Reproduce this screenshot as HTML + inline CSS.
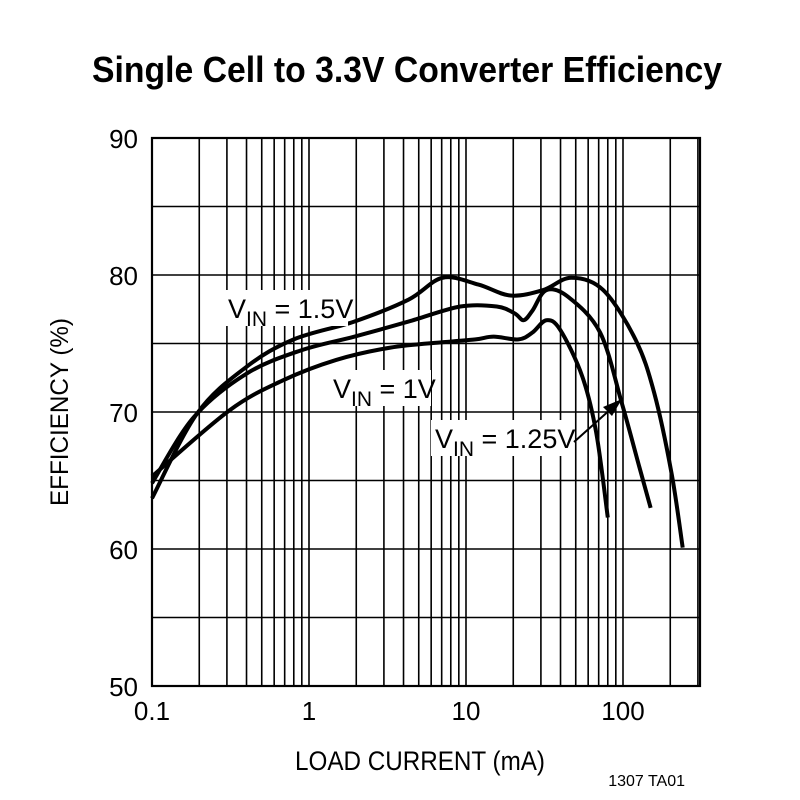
<!DOCTYPE html>
<html><head><meta charset="utf-8"><style>
body{margin:0;background:#fff}
svg{display:block;font-family:"Liberation Sans",sans-serif}
</style></head><body>
<svg id="chart" width="800" height="800" viewBox="0 0 800 800">
<text x="407" y="82" text-anchor="middle" font-size="36" font-weight="bold" textLength="630" lengthAdjust="spacingAndGlyphs">Single Cell to 3.3V Converter Efficiency</text>
<g id="grid"></g>
<g id="ticks"></g>
<g id="series"></g>
<g id="labels"></g>
<text x="420" y="770" text-anchor="middle" font-size="27" textLength="250" lengthAdjust="spacingAndGlyphs">LOAD CURRENT (mA)</text>
<text transform="translate(68,412) rotate(-90)" text-anchor="middle" font-size="25" textLength="188" lengthAdjust="spacingAndGlyphs">EFFICIENCY (%)</text>
<text x="685" y="786" text-anchor="end" font-size="16">1307 TA01</text>
</svg>
<script>
const xTickLabels=["0.1","1","10","100"];
const xTickValues=[0.1,1,10,100];
const yTickValues=[50,60,70,80,90];
const seriesNames=["VIN = 1.5V","VIN = 1.25V","VIN = 1V"];
const s15x=[0.1,0.194,0.40,0.80,1.94,4.3,7.1,12,19.2,31,46.8,74.8,120,158,204,240];
const s15y=[63.7,69.9,73.3,75.3,76.6,78.2,79.8,79.3,78.5,78.9,79.8,78.9,75.3,71.4,65.5,60.1];
const s125x=[0.1,0.184,0.40,0.89,1.94,4.3,9.2,15.7,20.4,23.3,26.5,32.5,44.8,71.5,98,127,150];
const s125y=[64.8,69.6,72.8,74.5,75.5,76.6,77.7,77.7,77.2,76.7,77.4,78.9,78.4,75.8,70.7,66,63];
const s1x=[0.1,0.31,0.68,1.49,3.3,7.2,11.5,15,21.6,26.5,32.5,39.8,55,67.5,80];
const s1y=[65.3,70.1,72.3,73.8,74.7,75.1,75.3,75.5,75.3,75.8,76.7,76,72.6,68.5,62.3];

const L=152,R=700,T=138,B=686;
const dec=157;
function X(v){return L+(Math.log10(v)+1)*dec;}
function Y(v){return B-(v-50)*(B-T)/40;}
const NS="http://www.w3.org/2000/svg";
function mk(tag,attrs,parent){const e=document.createElementNS(NS,tag);for(const k in attrs)e.setAttribute(k,attrs[k]);parent.appendChild(e);return e;}
const grid=document.getElementById('grid');
// vertical grid
for(let d=-1;d<=2;d++){for(let m=1;m<=9;m++){const v=m*Math.pow(10,d);const x=X(v);if(x>R+1)continue;
 const ln=mk('line',{x1:x,x2:x,y1:T,y2:B,stroke:'#000','stroke-width':1.6},grid);
 
 }}
for(let v=50;v<=90;v+=5){const y=Y(v);
 const ln=mk('line',{x1:L,x2:R,y1:y,y2:y,stroke:'#000','stroke-width':1.6},grid);
 
 }
const fr=mk('rect',{x:L,y:T,width:R-L,height:B-T,fill:'none',stroke:'#000','stroke-width':2.2},grid);


const ticks=document.getElementById('ticks');
xTickValues.forEach((v,i)=>{const t=mk('text',{x:X(v),y:B+34,'text-anchor':'middle','font-size':26},ticks);t.textContent=xTickLabels[i];
 
 });
yTickValues.forEach(v=>{const t=mk('text',{x:L-14,y:Y(v)+10,'text-anchor':'end','font-size':26},ticks);t.textContent=String(v);
 
 });
function pathFor(xs,ys){const p=xs.map((x,i)=>[X(x),Y(ys[i])]);let d='M'+p[0][0]+','+p[0][1];
 for(let i=0;i<p.length-1;i++){const p0=p[i-1]||p[i],p1=p[i],p2=p[i+1],p3=p[i+2]||p2;
  const c1=[p1[0]+(p2[0]-p0[0])/6,p1[1]+(p2[1]-p0[1])/6],c2=[p2[0]-(p3[0]-p1[0])/6,p2[1]-(p3[1]-p1[1])/6];
  d+=' C'+c1[0]+','+c1[1]+' '+c2[0]+','+c2[1]+' '+p2[0]+','+p2[1];}
 return d;}
const series=document.getElementById('series');
const labels=document.getElementById('labels');
// label backgrounds
function lab(x,y,w,sub,rest,name){
 const r=mk('rect',{x:x-4,y:y-28,width:w,height:36,fill:'#fff'},labels);
 
 
 const t=mk('text',{x:x,y:y,'font-size':27},labels);
 
 
 t.innerHTML='V<tspan font-size="21" dy="8">IN</tspan><tspan dy="-8"> = '+rest+'</tspan>';
}
lab(228,318,124,'IN','1.5V','label-vin-1-5v');
lab(333,398,102,'IN','1V','label-vin-1v');
lab(435,448,138,'IN','1.25V','label-vin-1-25v');
[[s15x,s15y,'curve-vin-1-5v'],[s125x,s125y,'curve-vin-1-25v'],[s1x,s1y,'curve-vin-1v']].forEach(s=>{
 const p=mk('path',{d:pathFor(s[0],s[1]),fill:'none',stroke:'#000','stroke-width':4,'stroke-linejoin':'round'},series);
 
 });
const ar=mk('line',{x1:574,y1:442,x2:612,y2:408,stroke:'#000','stroke-width':2},labels);


const ah=mk('polygon',{points:'622,399 603,407 612,416'},labels);


</script>
</body></html>
